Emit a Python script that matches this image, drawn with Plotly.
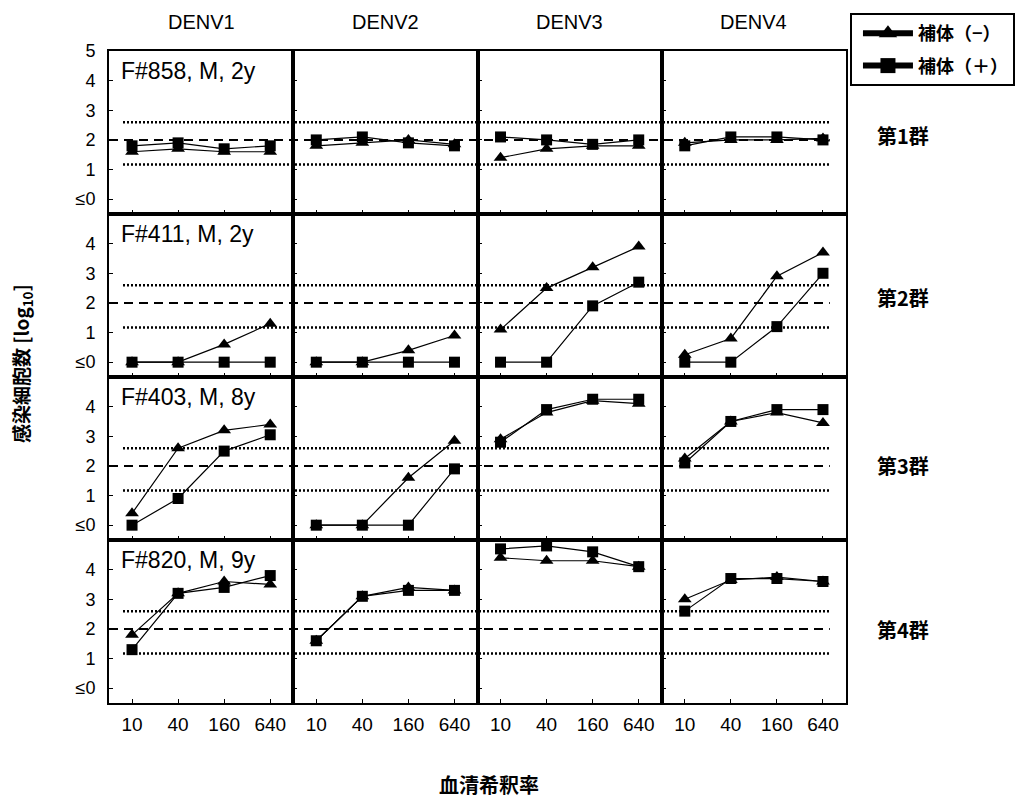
import plotly.graph_objects as go
from plotly.subplots import make_subplots

serotypes = ["DENV1", "DENV2", "DENV3", "DENV4"]
groups = ["第1群", "第2群", "第3群", "第4群"]
patients = ["F#858, M, 2y", "F#411, M, 2y", "F#403, M, 8y", "F#820, M, 9y"]
dilutions = ["10", "40", "160", "640"]
ytick_vals = [0, 1, 2, 3, 4, 5]
ytick_text = ["≤0", "1", "2", "3", "4", "5"]

# log10 infected cells; each list = one serotype (DENV1..DENV4) across dilutions
g1_minus = [[1.6, 1.7, 1.6, 1.6], [1.8, 1.9, 2.0, 1.85], [1.4, 1.7, 1.8, 1.8], [1.9, 2.0, 2.0, 2.05]]
g1_plus = [[1.8, 1.9, 1.7, 1.8], [2.0, 2.1, 1.9, 1.8], [2.1, 2.0, 1.85, 2.0], [1.8, 2.1, 2.1, 2.0]]
g2_minus = [[0, 0, 0.6, 1.3], [0, 0, 0.4, 0.9], [1.1, 2.5, 3.2, 3.9], [0.25, 0.8, 2.9, 3.7]]
g2_plus = [[0, 0, 0, 0], [0, 0, 0, 0], [0, 0, 1.9, 2.7], [0, 0, 1.2, 3.0]]
g3_minus = [[0.4, 2.6, 3.2, 3.4], [0, 0, 1.6, 2.85], [2.9, 3.8, 4.2, 4.1], [2.25, 3.5, 3.8, 3.45]]
g3_plus = [[0, 0.9, 2.5, 3.05], [0, 0, 0, 1.9], [2.8, 3.9, 4.25, 4.25], [2.1, 3.5, 3.9, 3.9]]
g4_minus = [[1.8, 3.2, 3.6, 3.5], [1.6, 3.1, 3.4, 3.3], [4.4, 4.3, 4.3, 4.1], [3.0, 3.65, 3.75, 3.6]]
g4_plus = [[1.3, 3.2, 3.4, 3.8], [1.6, 3.1, 3.3, 3.3], [4.7, 4.8, 4.6, 4.1], [2.6, 3.7, 3.7, 3.6]]

minus_rows = [g1_minus, g2_minus, g3_minus, g4_minus]
plus_rows = [g1_plus, g2_plus, g3_plus, g4_plus]

cutoff_mean = 2.0
cutoff_band = [1.17, 2.6]

legend_minus = "補体（−）"
legend_plus = "補体（＋）"

LATIN = "Liberation Sans, Arial, sans-serif"
CJK = "Noto Sans CJK JP, sans-serif"

fig = make_subplots(rows=4, cols=4, horizontal_spacing=0, vertical_spacing=0)

for r in range(4):
    for c in range(4):
        fig.add_trace(go.Scatter(
            x=dilutions, y=minus_rows[r][c], mode="lines+markers",
            line=dict(color="black", width=1.2),
            marker=dict(symbol="triangle-up", size=12, color="black"),
            showlegend=False, cliponaxis=False), row=r + 1, col=c + 1)
        fig.add_trace(go.Scatter(
            x=dilutions, y=plus_rows[r][c], mode="lines+markers",
            line=dict(color="black", width=1.2),
            marker=dict(symbol="square", size=11, color="black"),
            showlegend=False, cliponaxis=False), row=r + 1, col=c + 1)

# legend entries
fig.add_trace(go.Scatter(x=[None], y=[None], mode="lines+markers", name=legend_minus,
                         legendgroup="minus",
                         line=dict(color="black", width=6),
                         marker=dict(symbol="triangle-up", size=18, color="black")), row=1, col=1)
fig.add_trace(go.Scatter(x=[None], y=[None], mode="lines+markers", name=legend_plus,
                         legendgroup="plus",
                         line=dict(color="black", width=6),
                         marker=dict(symbol="square", size=15, color="black")), row=1, col=1)

for r in range(4):
    for c in range(4):
        fig.update_xaxes(type="category", categoryorder="array", categoryarray=dilutions,
                         range=[-0.5, 3.5], showline=True, mirror=True, linecolor="black",
                         linewidth=2, ticks="inside", ticklen=4, tickcolor="black",
                         showgrid=False, zeroline=False, automargin=False,
                         showticklabels=(r == 3), ticklabelstandoff=3,
                         tickfont=dict(family=LATIN, size=19, color="black"),
                         row=r + 1, col=c + 1)
        tv = ytick_vals if r == 0 else ytick_vals[:5]
        tt = ytick_text if r == 0 else ytick_text[:5]
        fig.update_yaxes(range=[-0.5, 5], tickvals=tv, ticktext=tt,
                         showline=True, mirror=True, linecolor="black", linewidth=2,
                         ticks="inside", ticklen=4, tickcolor="black",
                         showgrid=False, zeroline=False, automargin=False,
                         showticklabels=(c == 0), ticklabelstandoff=8,
                         tickfont=dict(family=LATIN, size=18, color="black"),
                         row=r + 1, col=c + 1)

# reference lines across each row
row_yref = ["y", "y5", "y9", "y13"]
for r in range(4):
    fig.add_shape(type="line", xref="paper", yref=row_yref[r], x0=0, x1=0.978,
                  y0=cutoff_mean, y1=cutoff_mean, layer="below",
                  line=dict(color="black", width=2, dash="9px,6px"))
    for lv in cutoff_band:
        fig.add_shape(type="line", xref="paper", yref=row_yref[r], x0=0.019, x1=0.978,
                      y0=lv, y1=lv, layer="below",
                      line=dict(color="black", width=2.5, dash="2px,2px"))

annotations = []
# column titles
for c in range(4):
    xd = "x domain" if c == 0 else f"x{c + 1} domain"
    annotations.append(dict(text=serotypes[c], xref=xd, yref="paper", x=0.5, y=1.045,
                            xanchor="center", yanchor="middle",
                            showarrow=False, font=dict(family=LATIN, size=20, color="black")))
# patient labels
for r in range(4):
    yd = "y domain" if r == 0 else f"y{r * 4 + 1} domain"
    xd = "x domain" if r == 0 else f"x{r * 4 + 1} domain"
    annotations.append(dict(text=patients[r], xref=xd, yref=yd, x=0.055, y=0.968,
                            xanchor="left", yanchor="top",
                            showarrow=False, font=dict(family=LATIN, size=23, color="black")))
# group labels
group_y = [0.870, 0.622, 0.365, 0.112]
for r in range(4):
    annotations.append(dict(text=groups[r], xref="paper", yref="paper", x=1.077, y=group_y[r],
                            xanchor="center", yanchor="middle", showarrow=False,
                            font=dict(family=CJK, size=20, color="black", weight="bold")))
# axis titles
annotations.append(dict(text="感染細胞数 [log<sub>10</sub>]", xref="paper", yref="paper",
                        x=-0.118, y=0.52, xanchor="center", yanchor="middle",
                        textangle=-90, showarrow=False,
                        font=dict(family=CJK, size=19, color="black", weight="bold")))
annotations.append(dict(text="血清希釈率", xref="paper", yref="paper",
                        x=0.5156, y=-0.125, xanchor="center", yanchor="middle", showarrow=False,
                        font=dict(family=CJK, size=20, color="black", weight="bold")))

fig.update_layout(
    width=1015, height=798,
    margin=dict(l=109, r=169, t=51, b=95, autoexpand=False),
    paper_bgcolor="white", plot_bgcolor="white",
    annotations=annotations,
    legend=dict(xref="container", yref="container", x=0.8374, y=0.9837,
                xanchor="left", yanchor="top",
                bordercolor="black", borderwidth=2, bgcolor="white",
                font=dict(family=CJK, size=18, color="black", weight="bold"),
                itemwidth=50, indentation=6, tracegroupgap=6),
)

fig.write_html("out.html", config={"displayModeBar": False},
               post_script="document.body.style.margin='0';")
